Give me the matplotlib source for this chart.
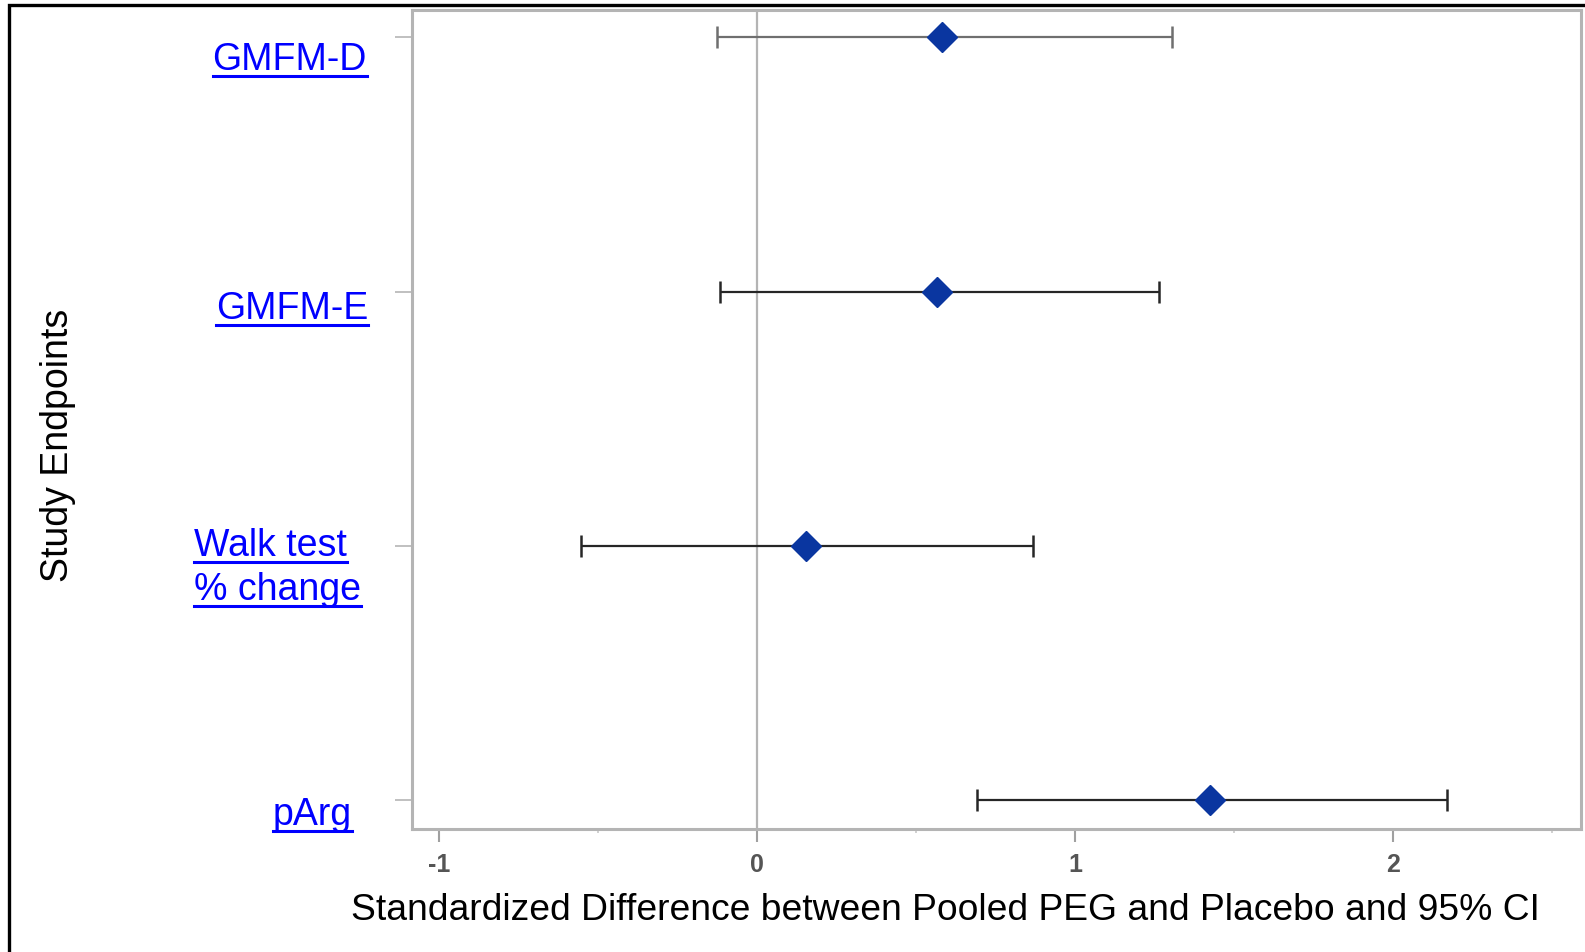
import matplotlib
matplotlib.use("Agg")
import matplotlib.pyplot as plt
from matplotlib.lines import Line2D
from matplotlib.patches import Rectangle

# ── Data ───────────────────────────────────────────
endpoints = ["GMFM-D", "GMFM-E", "Walk test\n% change", "pArg"]
estimate  = [0.58, 0.566, 0.154, 1.425]
ci_low    = [-0.126, -0.117, -0.553, 0.69]
ci_high   = [1.305, 1.264, 0.868, 2.17]
x_ticks   = [-1, 0, 1, 2]

# ── Style / layout ─────────────────────────────────
W, H = 1585, 952
FONT = "Liberation Sans"
bar_colors = ["#6f6f6f", "#262626", "#262626", "#262626"]
marker_col = "#0a36a0"
link_col   = "#0000ff"
# label anchor in pixels (x, baseline y from top, horizontal alignment)
label_anchor = [(367, 70, "right"), (368, 319, "right"),
                (194, 556, "left"), (352, 825, "right")]
line_gap = 44

plt.rcParams["font.family"] = [FONT, "DejaVu Sans"]

fig = plt.figure(figsize=(W / 100, H / 100), dpi=100)
ax = fig.add_axes([412 / W, 1 - 829 / H, (1581 - 412) / W, (829 - 10) / H])

ypos = list(range(len(endpoints) - 1, -1, -1))

ax.axvline(0, color="#b4b4b4", lw=1.6, zorder=1)
for y, e, lo, hi, c in zip(ypos, estimate, ci_low, ci_high, bar_colors):
    ax.errorbar([e], [y], xerr=[[e - lo], [hi - e]], fmt="none",
                ecolor=c, elinewidth=1.6, capsize=8, capthick=1.8, zorder=2)
ax.plot(estimate, ypos, linestyle="none", marker="D", ms=15,
        color=marker_col, mec=marker_col, zorder=3)

ax.set_xlim(-1.085, 2.59)
ax.set_ylim(-0.114, 3.108)
ax.set_xticks(x_ticks)
ax.set_xticklabels([str(v) for v in x_ticks])
ax.set_xticks([-0.5, 0.5, 1.5, 2.5], minor=True)
ax.set_yticks(ypos)
ax.set_yticklabels([])

for s in ax.spines.values():
    s.set_color("#b4b4b4")
    s.set_linewidth(2.2)

ax.tick_params(axis="x", which="major", length=9, width=1.5, color="#a0a0a0",
               pad=8, labelsize=18, labelcolor="#555555")
ax.tick_params(axis="x", which="minor", length=3, width=1.2, color="#c8c8c8")
ax.tick_params(axis="y", length=12, width=1.4, color="#c0c0c0")
for t in ax.get_xticklabels():
    t.set_fontweight("bold")

# ── Endpoint labels (blue, underlined) ─────────────
texts = []
for lab, (px, py, ha) in zip(endpoints, label_anchor):
    for k, part in enumerate(lab.split("\n")):
        yb = py + k * line_gap
        t = fig.text(px / W, 1 - yb / H, part, ha=ha, va="baseline",
                     fontsize=27, color=link_col)
        texts.append((t, yb))

fig.text(58 / W, 1 - 445 / H, "Study Endpoints", rotation=90,
         ha="center", va="center", fontsize=27, color="black")
fig.text(945 / W, 1 - 910 / H,
         "Standardized Difference between Pooled PEG and Placebo and 95% CI",
         ha="center", va="center", fontsize=26.8, color="black")

fig.canvas.draw()
renderer = fig.canvas.get_renderer()
for t, yb in texts:
    bb = t.get_window_extent(renderer)
    yu = 1 - (yb + 6) / H
    fig.add_artist(Line2D([bb.x0 / W, bb.x1 / W], [yu, yu],
                          transform=fig.transFigure, color=link_col, lw=2.2))

# outer frame
fig.add_artist(Rectangle((9 / W, -0.05), 1.2, 1.05 - 5 / H,
                         transform=fig.transFigure, fill=False,
                         ec="black", lw=2.4, clip_on=False))

fig.savefig("out.png", dpi=100)
